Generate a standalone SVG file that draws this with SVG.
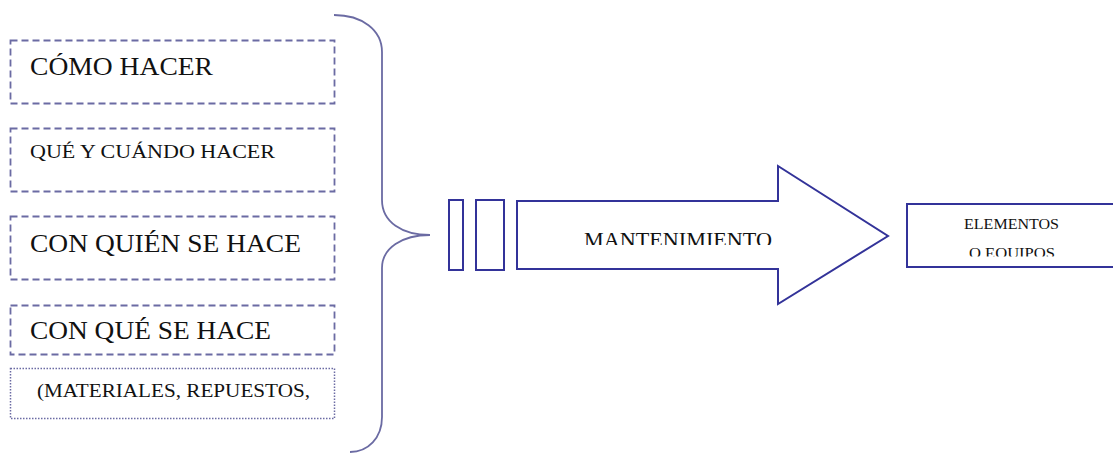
<svg xmlns="http://www.w3.org/2000/svg" width="1113" height="453" viewBox="0 0 1113 453">
  <style>
    .lbl { font-family: "Liberation Serif", "DejaVu Serif", serif; fill: #111; }
    .dash { fill: none; stroke: #6b6ba3; stroke-width: 1.8; stroke-dasharray: 7 4; }
    .dot { fill: none; stroke: #6b6ba3; stroke-width: 1.5; stroke-dasharray: 1.5 1.5; }
    .solid { fill: #fff; stroke: #333399; stroke-width: 2; }
    .brace { fill: none; stroke: #6b6ba3; stroke-width: 1.8; }
  </style>
  <defs>
    <clipPath id="clipArrowText"><rect x="560" y="200" width="240" height="45"/></clipPath>
    <clipPath id="clipBoxText"><rect x="908" y="205" width="205" height="51.5"/></clipPath>
  </defs>
  <rect width="1113" height="453" fill="#fff"/>

  <g id="como">
    <rect class="dash" x="10.5" y="40.5" width="324" height="63"/>
    <text class="lbl" x="30" y="75" font-size="26" textLength="183" lengthAdjust="spacingAndGlyphs">CÓMO HACER</text>
  </g>
  <g id="que-cuando">
    <rect class="dash" x="10.5" y="128.5" width="324" height="63"/>
    <text class="lbl" x="30" y="158" font-size="19.5" textLength="245" lengthAdjust="spacingAndGlyphs">QUÉ Y CUÁNDO HACER</text>
  </g>
  <g id="con-quien">
    <rect class="dash" x="10.5" y="216.5" width="324" height="63"/>
    <text class="lbl" x="30" y="252" font-size="26" textLength="271" lengthAdjust="spacingAndGlyphs">CON QUIÉN SE HACE</text>
  </g>
  <g id="con-que">
    <rect class="dash" x="10.5" y="305.5" width="324" height="49"/>
    <text class="lbl" x="30" y="339" font-size="26" textLength="241" lengthAdjust="spacingAndGlyphs">CON QUÉ SE HACE</text>
  </g>
  <g id="materiales">
    <rect class="dot" x="10.5" y="368.5" width="324" height="50"/>
    <text class="lbl" x="37" y="397" font-size="19.5" textLength="273" lengthAdjust="spacingAndGlyphs">(MATERIALES, REPUESTOS,</text>
  </g>

  <g id="connectors">
    <path class="brace" d="M334 15 C362 15 382 30 382 52 L382 200 C382 222 402 235 430 235 C402 235 382 248 382 268 L382 417 C382 438 368 452 350 452"/>
  </g>

  <g id="bars">
    <rect class="solid" x="449" y="200" width="14" height="70"/>
    <rect class="solid" x="476" y="200" width="28" height="70"/>
  </g>

  <g id="mantenimiento">
    <polygon class="solid" points="517,201 778,201 778,166 888,236 778,304 778,269 517,269"/>
    <text class="lbl" x="584" y="246.5" font-size="20.5" textLength="188" lengthAdjust="spacingAndGlyphs" clip-path="url(#clipArrowText)">MANTENIMIENTO</text>
  </g>

  <g id="elementos">
    <rect class="solid" x="907" y="204" width="220" height="63"/>
    <g clip-path="url(#clipBoxText)">
      <text class="lbl" x="964" y="229" font-size="15" textLength="95" lengthAdjust="spacingAndGlyphs">ELEMENTOS</text>
      <text class="lbl" x="969" y="258" font-size="15" textLength="86" lengthAdjust="spacingAndGlyphs">O EQUIPOS</text>
    </g>
  </g>
</svg>
